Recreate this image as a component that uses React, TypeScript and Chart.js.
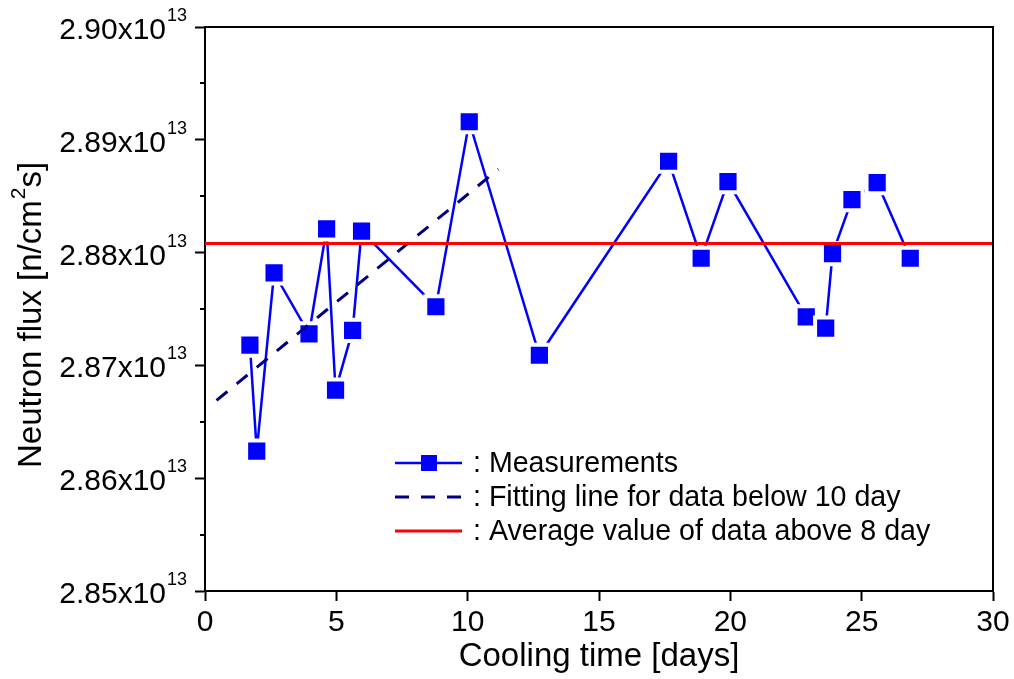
import React, { useEffect, useRef } from 'react';
import { Chart, registerables } from 'chart.js';

Chart.register(...registerables);

// Measurements: cooling time [days] vs neutron flux [n/cm^2 s]
const coolingDays = [1.71, 1.97, 2.63, 3.96, 4.63, 4.97, 5.62, 5.96, 8.79, 10.06, 12.73, 17.65, 18.89, 19.91, 22.89, 23.63, 23.89, 24.63, 25.59, 26.85];
const neutronFlux = [2.8718e13, 2.8624e13, 2.8782e13, 2.8728e13, 2.8821e13, 2.8678e13, 2.8731e13, 2.8819e13, 2.8752e13, 2.8916e13, 2.8709e13, 2.8881e13, 2.8795e13, 2.8863e13, 2.8743e13, 2.8733e13, 2.8799e13, 2.8847e13, 2.8862e13, 2.8795e13];

// Fitting line for data below 10 day (end points)
const fitDays = [0.44, 11.17];
const fitFlux = [2.8669e13, 2.8874e13];

// Average value of data above 8 day
const avgDays = [0, 30];
const avgFlux = [2.8808e13, 2.8808e13];

// Axis settings
const xMin = 0;
const xMax = 30;
const xStep = 5;
const yMin = 2.85e13;
const yMax = 2.90e13;
const yStep = 0.01e13;
const yExponent = '13';

const legendLabels = [
  ': Measurements',
  ': Fitting line for data below 10 day',
  ': Average value of data above 8 day',
];

const xTitle = 'Cooling time [days]';
const yTitleParts = ['Neutron flux [n/cm', '2', 's]'];

const FONT = "'Liberation Sans', Arial, sans-serif";
const BLUE = '#0000ff';
const NAVY = '#000080';
const RED = '#ff0000';

const decorPlugin = {
  id: 'decor',
  afterDraw(chart: any) {
    const { ctx, chartArea: a, scales } = chart;
    const y = scales.y;
    ctx.save();
    // top & right frame
    ctx.strokeStyle = '#000';
    ctx.lineWidth = 2;
    ctx.beginPath();
    ctx.moveTo(a.left - 1, a.top);
    ctx.lineTo(a.right, a.top);
    ctx.lineTo(a.right, a.bottom);
    ctx.stroke();

    // minor ticks on y axis
    ctx.lineWidth = 2;
    const ticks = y.ticks;
    for (let i = 0; i < ticks.length - 1; i++) {
      const v = (ticks[i].value + ticks[i + 1].value) / 2;
      const p = Math.round(y.getPixelForValue(v));
      ctx.beginPath();
      ctx.moveTo(a.left - 5, p);
      ctx.lineTo(a.left, p);
      ctx.stroke();
    }

    // y tick labels with superscript exponent
    ctx.fillStyle = '#000';
    ctx.textBaseline = 'alphabetic';
    ticks.forEach((t: any) => {
      const p = y.getPixelForValue(t.value);
      ctx.font = `30px ${FONT}`;
      ctx.textAlign = 'right';
      ctx.fillText((t.value / 1e13).toFixed(2) + 'x10', 166, p + 12);
      ctx.font = `18px ${FONT}`;
      ctx.textAlign = 'left';
      ctx.fillText(yExponent, 167, p - 6);
    });

    // y axis title (rotated, with superscript)
    ctx.save();
    ctx.translate(41, 468);
    ctx.rotate(-Math.PI / 2);
    ctx.textAlign = 'left';
    ctx.font = `33px ${FONT}`;
    let cx = 0;
    ctx.fillText(yTitleParts[0], cx, 0);
    cx += ctx.measureText(yTitleParts[0]).width;
    ctx.font = `21px ${FONT}`;
    ctx.fillText(yTitleParts[1], cx + 1, -16);
    cx += ctx.measureText(yTitleParts[1]).width + 1;
    ctx.font = `33px ${FONT}`;
    ctx.fillText(yTitleParts[2], cx, 0);
    ctx.restore();

    // legend
    const rows = [463, 497, 531];
    const x0 = 395;
    const x1 = 462;
    // row 1
    ctx.strokeStyle = BLUE;
    ctx.lineWidth = 2.5;
    ctx.beginPath();
    ctx.moveTo(x0, rows[0]);
    ctx.lineTo(x1, rows[0]);
    ctx.stroke();
    ctx.fillStyle = BLUE;
    ctx.fillRect(421, rows[0] - 8, 16, 16);
    // row 2
    ctx.strokeStyle = NAVY;
    ctx.lineWidth = 3;
    ctx.setLineDash([14, 12]);
    ctx.beginPath();
    ctx.moveTo(x0, rows[1]);
    ctx.lineTo(x1, rows[1]);
    ctx.stroke();
    ctx.setLineDash([]);
    // row 3
    ctx.strokeStyle = RED;
    ctx.lineWidth = 3;
    ctx.beginPath();
    ctx.moveTo(x0, rows[2]);
    ctx.lineTo(x1, rows[2]);
    ctx.stroke();

    ctx.fillStyle = '#000';
    ctx.font = `28.6px ${FONT}`;
    ctx.textAlign = 'left';
    legendLabels.forEach((lbl, i) => {
      ctx.fillText(lbl, 473, rows[i] + 9);
    });
    ctx.restore();
  },
};

export default function App() {
  const ref = useRef<HTMLCanvasElement | null>(null);

  useEffect(() => {
    if (!ref.current) return;
    const chart = new Chart(ref.current, {
      type: 'line',
      data: {
        datasets: [
          {
            label: 'Measurements',
            data: coolingDays.map((d, i) => ({ x: d, y: neutronFlux[i] })),
            borderColor: BLUE,
            backgroundColor: BLUE,
            borderWidth: 2.5,
            pointStyle: 'rect',
            pointRadius: 15,
            pointBorderWidth: 4,
            pointBorderColor: '#ffffff',
            pointBackgroundColor: BLUE,
            tension: 0,
            order: 3,
          },
          {
            label: 'Fitting line',
            data: fitDays.map((d, i) => ({ x: d, y: fitFlux[i] })),
            borderColor: NAVY,
            borderWidth: 3,
            borderDash: [14, 12],
            pointRadius: 0,
            tension: 0,
            order: 2,
          },
          {
            label: 'Average',
            data: avgDays.map((d, i) => ({ x: d, y: avgFlux[i] })),
            borderColor: RED,
            borderWidth: 3,
            pointRadius: 0,
            tension: 0,
            order: 1,
          },
        ],
      },
      options: {
        animation: false,
        responsive: false,
        maintainAspectRatio: false,
        devicePixelRatio: 1,
        layout: { padding: { top: 27, right: 21, left: 0, bottom: 0 } },
        plugins: {
          legend: { display: false },
          tooltip: { enabled: false },
        },
        scales: {
          x: {
            type: 'linear',
            min: xMin,
            max: xMax,
            afterFit: (s: any) => {
              s.height = 88;
            },
            ticks: {
              stepSize: xStep,
              color: '#000',
              font: { family: FONT, size: 30 },
              padding: 4,
              maxRotation: 0,
            },
            grid: {
              display: true,
              drawOnChartArea: false,
              drawTicks: true,
              tickLength: 10,
              tickColor: '#000',
              tickWidth: 2,
            },
            border: { display: true, color: '#000', width: 2 },
            title: {
              display: true,
              text: xTitle,
              color: '#000',
              font: { family: FONT, size: 33, lineHeight: 1.2 },
              padding: { top: 0, bottom: 2 },
            },
          },
          y: {
            type: 'linear',
            min: yMin,
            max: yMax,
            afterFit: (s: any) => {
              s.width = 205;
            },
            ticks: {
              stepSize: yStep,
              display: false,
            },
            grid: {
              display: true,
              drawOnChartArea: false,
              drawTicks: true,
              tickLength: 10,
              tickColor: '#000',
              tickWidth: 2,
            },
            border: { display: true, color: '#000', width: 2 },
            title: { display: false },
          },
        },
      },
      plugins: [decorPlugin],
    });
    return () => chart.destroy();
  }, []);

  return (
    <canvas
      ref={ref}
      width={1014}
      height={679}
      style={{ position: 'fixed', left: 0, top: 0, width: 1014, height: 679, background: '#fff' }}
    />
  );
}
